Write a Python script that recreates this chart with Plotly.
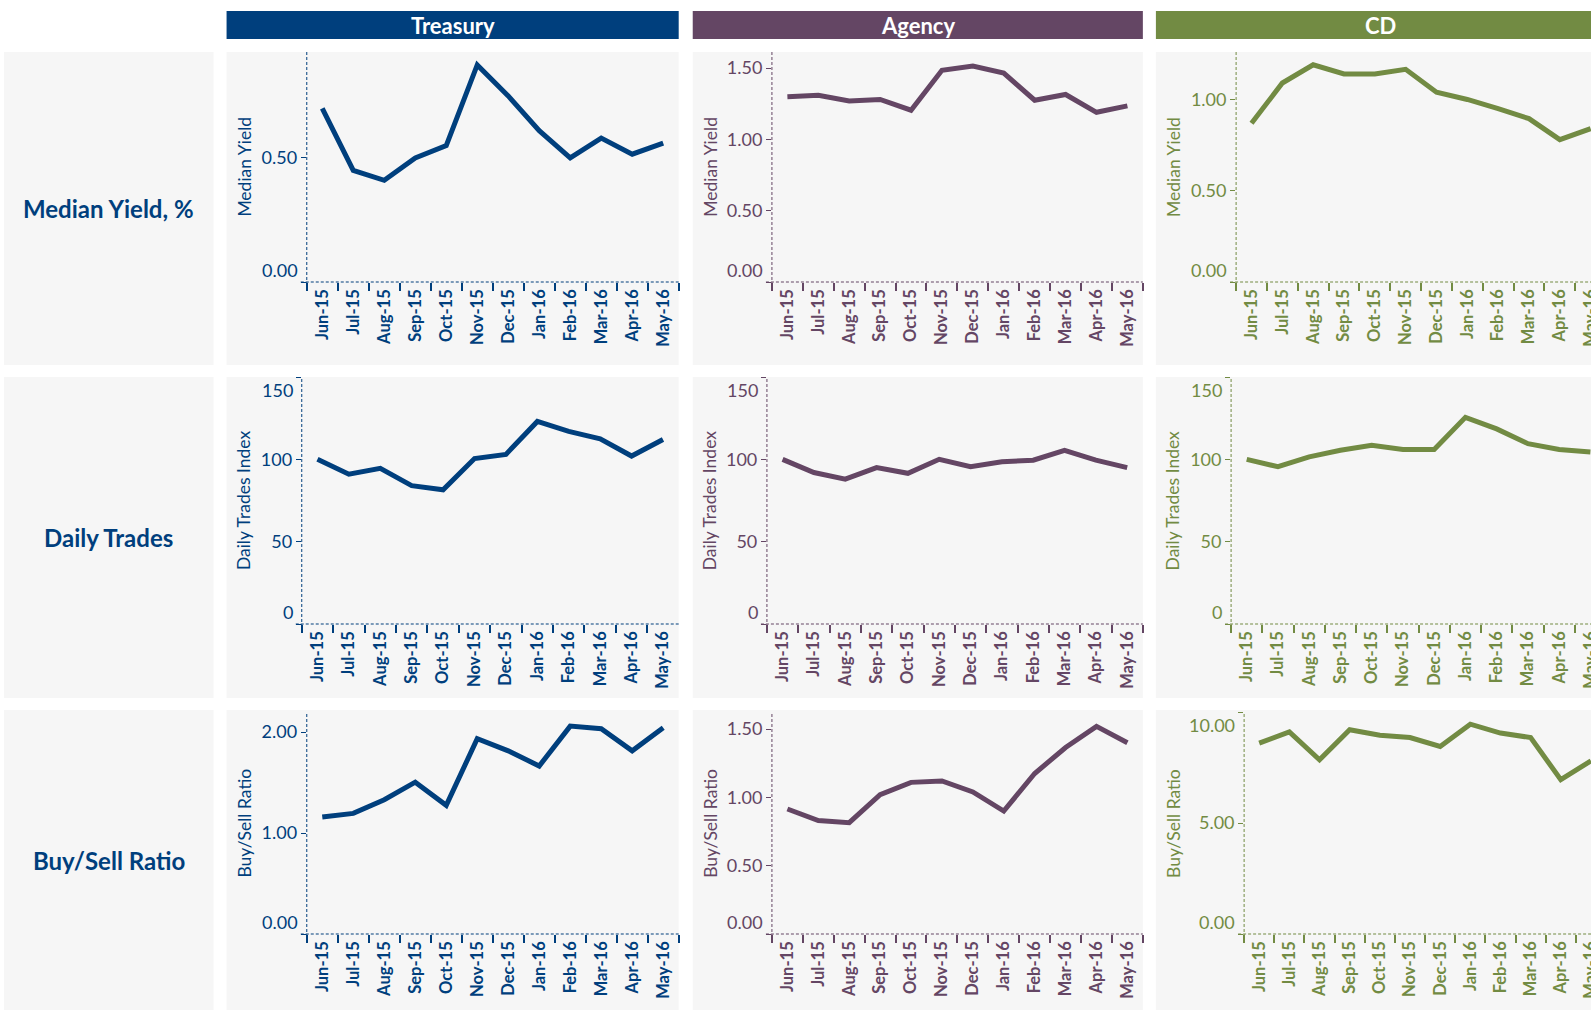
import plotly.graph_objects as go

months = ["Jun-15", "Jul-15", "Aug-15", "Sep-15", "Oct-15", "Nov-15",
          "Dec-15", "Jan-16", "Feb-16", "Mar-16", "Apr-16", "May-16"]

sectors = ["Treasury", "Agency", "CD"]
metrics = ["Median Yield, %", "Daily Trades", "Buy/Sell Ratio"]
axis_titles = ["Median Yield", "Daily Trades Index", "Buy/Sell Ratio"]

# median yield, %
treasury_yield = [0.70, 0.45, 0.41, 0.50, 0.55, 0.875, 0.75, 0.61, 0.50, 0.58, 0.515, 0.56]
agency_yield = [1.30, 1.31, 1.27, 1.28, 1.205, 1.485, 1.515, 1.465, 1.275, 1.315, 1.19, 1.235]
cd_yield = [0.87, 1.09, 1.19, 1.14, 1.14, 1.165, 1.04, 1.00, 0.95, 0.895, 0.78, 0.84]

# daily trades index (Jun-15 = 100)
treasury_trades = [100, 91, 94.5, 84, 81.5, 100.5, 103, 123, 117, 112.5, 102, 112]
agency_trades = [100, 92, 88, 95, 91.5, 100, 95.5, 98.5, 99.5, 105.5, 99.5, 95]
cd_trades = [100, 95.5, 101.5, 105.5, 108.5, 106, 106, 125.5, 118.5, 109.5, 106, 104.5]

# buy/sell ratio
treasury_ratio = [1.16, 1.195, 1.33, 1.505, 1.275, 1.935, 1.815, 1.665, 2.06, 2.035, 1.815, 2.045]
agency_ratio = [0.915, 0.83, 0.815, 1.02, 1.11, 1.12, 1.04, 0.90, 1.175, 1.365, 1.52, 1.40]
cd_ratio = [8.6, 9.1, 7.85, 9.2, 8.95, 8.85, 8.45, 9.45, 9.05, 8.85, 6.95, 7.8]

# y tick values per panel
yield_ticks = [[0, 0.5], [0, 0.5, 1.0, 1.5], [0, 0.5, 1.0]]
trades_ticks = [[0, 50, 100, 150], [0, 50, 100, 150], [0, 50, 100, 150]]
ratio_ticks = [[0, 1.0, 2.0], [0, 0.5, 1.0, 1.5], [0, 5.0, 10.0]]

series = [[treasury_yield, agency_yield, cd_yield],
          [treasury_trades, agency_trades, cd_trades],
          [treasury_ratio, agency_ratio, cd_ratio]]
ticks = [yield_ticks, trades_ticks, ratio_ticks]
tick_fmt = ["{:.2f}", "{:.0f}", "{:.2f}"]

# --- styling / geometry (screen pixels) ---
COLORS = ["#003f7d", "#644664", "#728b43"]
PANEL_BG = "#f6f6f6"
FONT = "Lato"
VW, H = 1591, 1010          # visible page
FIG_W = 1600                # the page ends up ~9px wider than the figure's visible part

col_panels = [(226, 677), (691, 1140), (1153, 1602)]
label_panel = (4, 213)
row_panels = [(52, 365), (377, 698), (710, 1010)]
header_y = (11, 39)
axis_x = [[306, 770, 1233], [301, 765, 1228], [306, 770, 1241]]
axis_y = [(52, 282), (377, 624), (712, 934)]
y_top = [[0.927, 1.613, 1.26], [150, 150, 150], [2.2, 1.625, 10]]


def fx(px):
    return px / VW


def fy(py):
    return 1 - py / H


def sfx(i):
    return "" if i == 1 else str(i)


fig = go.Figure()
shapes, annots = [], []

# row label panels
for r, (t, b) in enumerate(row_panels):
    shapes.append(dict(type="rect", xref="paper", yref="paper", layer="below",
                       x0=fx(label_panel[0]), x1=fx(label_panel[1]), y0=fy(b), y1=fy(t),
                       fillcolor=PANEL_BG, line_width=0))
    annots.append(dict(xref="paper", yref="paper", x=fx(sum(label_panel) / 2),
                       y=fy((t + b) / 2), xanchor="center", yanchor="middle",
                       text=metrics[r], showarrow=False,
                       font=dict(family=FONT, size=24, color=COLORS[0], weight="bold")))

for c, (cl, cr) in enumerate(col_panels):
    cr_vis = min(cr, VW)
    shapes.append(dict(type="rect", xref="paper", yref="paper",
                       x0=fx(cl), x1=fx(cr_vis), y0=fy(header_y[1]), y1=fy(header_y[0]),
                       fillcolor=COLORS[c], line_width=0))
    annots.append(dict(xref="paper", yref="paper", x=fx((cl + cr) / 2), y=fy(sum(header_y) / 2),
                       xanchor="center", yanchor="middle", text=sectors[c], showarrow=False,
                       font=dict(family=FONT, size=22, color="white", weight="bold")))
    for r, (t, b) in enumerate(row_panels):
        shapes.append(dict(type="rect", xref="paper", yref="paper", layer="below",
                           x0=fx(cl), x1=fx(cr_vis), y0=fy(b), y1=fy(t),
                           fillcolor=PANEL_BG, line_width=0))

for r in range(3):
    top, bot = axis_y[r]
    for c in range(3):
        i = r * 3 + c + 1
        xa, ya = "x" + sfx(i), "y" + sfx(i)
        col = COLORS[c]
        ax0 = axis_x[r][c]
        cr = col_panels[c][1]
        cr_vis = min(cr, VW)
        step = (cr - ax0) / len(months)
        xmax = -0.5 + (cr_vis - ax0) / step
        ymax = y_top[r][c]
        tv = ticks[r][c]

        fig.add_trace(go.Scatter(x=months, y=series[r][c], mode="lines",
                                 line=dict(color=col, width=5),
                                 xaxis=xa, yaxis=ya, showlegend=False,
                                 hoverinfo="x+y"))

        ticktext = []
        for v in tv:
            at_end = abs(v) < 1e-9 or abs(v - ymax) < 1e-9
            ticktext.append("" if at_end else tick_fmt[r].format(v))
            if at_end:
                annots.append(dict(xref=xa + " domain", yref=ya, x=0, y=v,
                                   xanchor="right", yanchor="middle", xshift=-7,
                                   yshift=12 if abs(v) < 1e-9 else -13,
                                   text=tick_fmt[r].format(v), showarrow=False,
                                   font=dict(family=FONT, size=18, color=col)))

        fig.layout["xaxis" + sfx(i)] = dict(
            domain=[fx(ax0), fx(cr_vis)], anchor=ya, type="category",
            range=[-0.5, xmax], tickson="boundaries", ticks="outside", ticklen=8,
            tickwidth=1.8, tickcolor=col, tickangle=-90, ticklabelstandoff=3,
            tickfont=dict(family=FONT, size=16.5, color=col, weight="bold"),
            showgrid=False, zeroline=False, showline=False, fixedrange=True)
        fig.layout["yaxis" + sfx(i)] = dict(
            domain=[fy(bot), fy(top)], anchor=xa, range=[0, ymax],
            tickmode="array", tickvals=tv, ticktext=ticktext, ticks="outside",
            ticklen=5, tickwidth=1, tickcolor=col,
            tickfont=dict(family=FONT, size=18, color=col),
            showgrid=False, zeroline=False, showline=False, fixedrange=True)

        # dashed axis lines
        shapes.append(dict(type="line", xref="paper", yref="paper",
                           x0=fx(ax0 - 6), x1=fx(cr_vis), y0=fy(bot), y1=fy(bot),
                           line=dict(color=col, width=1, dash="3px,2px")))
        shapes.append(dict(type="line", xref="paper", yref="paper",
                           x0=fx(ax0), x1=fx(ax0), y0=fy(bot + 3), y1=fy(top),
                           line=dict(color=col, width=1, dash="3px,2px")))

        # y-axis title, fixed near the panel's left edge
        annots.append(dict(xref="paper", yref=ya + " domain",
                           x=fx(col_panels[c][0] + 17), y=0.5, textangle=-90,
                           xanchor="center", yanchor="middle",
                           text=axis_titles[r], showarrow=False,
                           font=dict(family=FONT, size=17.5, color=col)))

fig.update_layout(width=FIG_W, height=H, margin=dict(l=0, r=0, t=0, b=0),
                  paper_bgcolor="white", plot_bgcolor="rgba(0,0,0,0)",
                  shapes=shapes, annotations=annots,
                  font=dict(family=FONT))

# no page margin, and clip anything (the cut-off CD labels) that pokes past the figure
fig.write_html("out.html", config={"displayModeBar": False},
               post_script="document.body.style.margin='0';"
                           "document.body.style.overflow='hidden';"
                           "document.getElementById('{plot_id}').style.overflow='hidden';")
